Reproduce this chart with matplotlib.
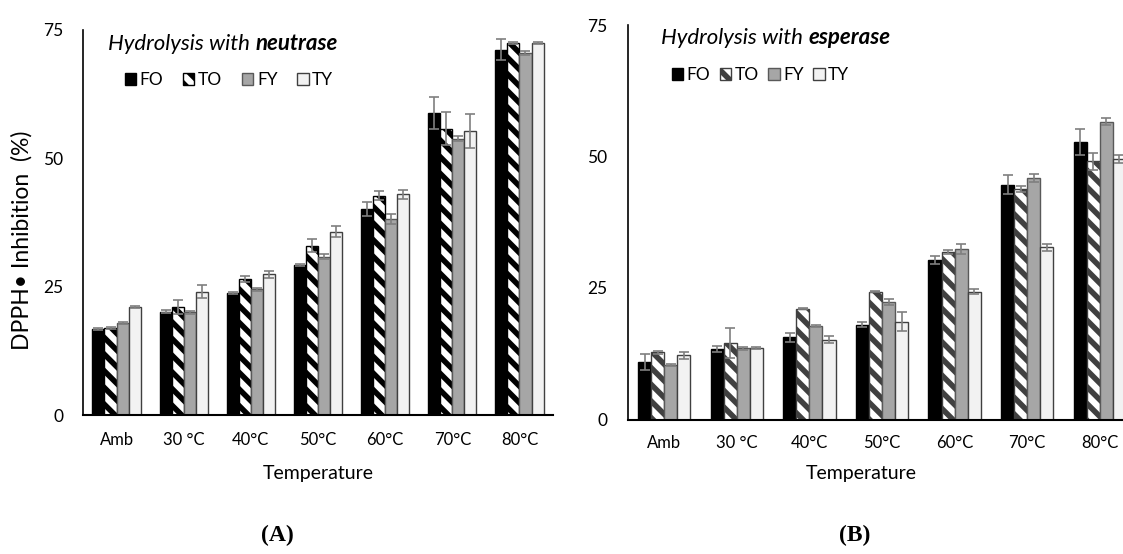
import matplotlib
matplotlib.use('Agg')
import matplotlib.pyplot as plt
import numpy as np
from matplotlib.patches import Patch

plt.rcParams['font.family'] = ['Lato', 'DejaVu Sans']
plt.rcParams['hatch.linewidth'] = 4.0

temps = ['Amb', '30 °C', '40°C', '50°C', '60°C', '70°C', '80°C']
series = ['FO', 'TO', 'FY', 'TY']

# panel A - neutrase
neu_fo = [16.8, 20.1, 23.8, 29.2, 40.1, 58.9, 71.2]
neu_fo_err = [0.2, 0.3, 0.2, 0.2, 1.4, 3.1, 2.0]
neu_to = [16.9, 21.1, 26.5, 33.0, 42.7, 55.8, 72.4]
neu_to_err = [0.2, 1.4, 0.6, 1.2, 0.9, 3.2, 0.2]
neu_fy = [17.9, 20.0, 24.5, 30.8, 38.2, 53.8, 70.5]
neu_fy_err = [0.2, 0.3, 0.3, 0.5, 0.9, 0.5, 0.45]
neu_ty = [21.0, 24.0, 27.4, 35.7, 43.0, 55.3, 72.5]
neu_ty_err = [0.2, 1.3, 0.65, 1.1, 0.9, 3.3, 0.2]

# panel B - esperase
esp_fo = [11.0, 13.4, 15.6, 18.0, 30.3, 44.6, 52.7]
esp_fo_err = [1.5, 0.6, 0.8, 0.45, 0.8, 1.8, 2.5]
esp_to = [12.8, 14.5, 21.1, 24.3, 31.9, 43.8, 49.1]
esp_to_err = [0.3, 2.9, 0.1, 0.1, 0.4, 0.6, 1.6]
esp_fy = [10.4, 13.5, 17.8, 22.3, 32.4, 45.9, 56.6]
esp_fy_err = [0.2, 0.2, 0.2, 0.55, 0.9, 0.8, 0.7]
esp_ty = [12.2, 13.6, 15.2, 18.6, 24.3, 32.7, 49.5]
esp_ty_err = [0.7, 0.2, 0.75, 1.8, 0.45, 0.7, 0.75]

W, H = 1123, 554
fig = plt.figure(figsize=(W / 100, H / 100), dpi=100)


def px(x, y):
    return x / W, 1 - y / H


def make_axes(x0, x1, y0, y75):
    l, b = px(x0, y0)
    return fig.add_axes([l, b, (x1 - x0) / W, (y0 - y75) / H])


def draw_panel(ax, vals, errs, stripe_col, ypad, xpad):
    x = np.arange(len(temps))
    w = 0.18
    styles = [
        dict(color='black', edgecolor='black'),
        dict(color='white', edgecolor=stripe_col, hatch='\\\\'),
        dict(color='#a6a6a6', edgecolor='#595959'),
        dict(color='#f2f2f2', edgecolor='#404040'),
    ]
    handles = []
    for i, (v, e, st) in enumerate(zip(vals, errs, styles)):
        pos = x + (i - 1.5) * w
        ax.bar(pos, v, w, linewidth=1.0, zorder=2, **st)
        ax.errorbar(pos, v, yerr=e, fmt='none', ecolor='#7f7f7f',
                    elinewidth=1.2, capsize=3.6, capthick=1.2, zorder=3)
        handles.append(Patch(facecolor=st['color'], edgecolor=st['edgecolor'],
                             hatch=st.get('hatch'), linewidth=1.0))
    ax.set_xlim(-0.5, len(temps) - 0.5)
    ax.set_ylim(0, 75)
    ax.set_yticks([0, 25, 50, 75])
    ax.set_xticks(x)
    ax.set_xticklabels(temps, fontsize=12)
    ax.tick_params(axis='y', length=0, pad=ypad, labelsize=12.5)
    ax.tick_params(axis='x', length=0, pad=xpad)
    for s in ['top', 'right']:
        ax.spines[s].set_visible(False)
    ax.spines['left'].set_linewidth(1.2)
    ax.spines['bottom'].set_linewidth(1.5)
    return handles


def title(x, y, enzyme):
    t = fig.text(*px(x, y), 'Hydrolysis with ', fontsize=16, style='italic', va='center')
    a = plt.annotate(enzyme, xy=(1, 0.5), xycoords=t, va='center', ha='left',
                     fontsize=16, style='italic', weight='bold',
                     annotation_clip=False)
    return a


axA = make_axes(83, 553, 415, 30)
hA = draw_panel(axA, [neu_fo, neu_to, neu_fy, neu_ty],
                [neu_fo_err, neu_to_err, neu_fy_err, neu_ty_err], 'black', 14, 12)
axB = make_axes(628, 1136, 419.5, 25)
hB = draw_panel(axB, [esp_fo, esp_to, esp_fy, esp_ty],
                [esp_fo_err, esp_to_err, esp_fy_err, esp_ty_err], '#404040', 15, 11)

plt.sca(axA)
title(108, 44, 'neutrase')
plt.sca(axB)
title(661, 38, 'esperase')

axA.legend(hA, series, loc='center left', bbox_to_anchor=px(116, 80),
           bbox_transform=fig.transFigure, ncol=4, frameon=False, borderpad=0,
           handlelength=0.65, handleheight=0.65, handletextpad=0.2,
           columnspacing=1.15, fontsize=12.5)
axB.legend(hB, series, loc='center left', bbox_to_anchor=px(663, 75),
           bbox_transform=fig.transFigure, ncol=4, frameon=False, borderpad=0,
           handlelength=0.65, handleheight=0.65, handletextpad=0.2,
           columnspacing=0.55, fontsize=12.5)

fig.text(*px(318, 473), 'Temperature', fontsize=14, ha='center', va='center')
fig.text(*px(861, 473), 'Temperature', fontsize=14, ha='center', va='center')
fig.text(*px(22, 240), 'DPPH\u2022 Inhibition  (%)', fontsize=16.5, rotation=90,
         ha='center', va='center')

fig.text(*px(277, 535), '(A)', fontsize=17, weight='bold', ha='center', va='center',
         family='Liberation Serif')
fig.text(*px(855, 535), '(B)', fontsize=17, weight='bold', ha='center', va='center',
         family='Liberation Serif')

fig.savefig('out.png', dpi=100)
